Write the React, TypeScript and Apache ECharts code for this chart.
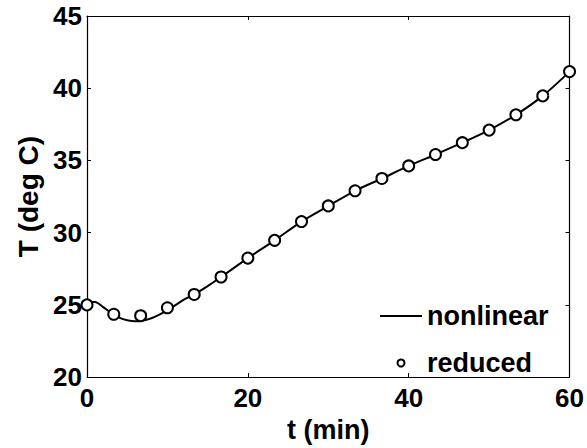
import React, { useEffect, useRef } from "react";
import * as echarts from "echarts";

const nonlinearT = [0, 1, 2, 3, 4, 5, 6, 7, 8, 9, 10, 11, 12, 13.33, 15, 16.67, 20, 23.33, 26.67, 30, 33.33, 36.67, 40, 43.33, 46.67, 50, 53.33, 56.67, 60];
const nonlinearY = [25.2, 25.2, 24.85, 24.45, 24.12, 23.93, 23.86, 23.92, 24.07, 24.32, 24.63, 24.98, 25.35, 25.72, 26.3, 26.93, 28.24, 29.47, 30.77, 31.85, 32.9, 33.75, 34.62, 35.41, 36.23, 37.1, 38.16, 39.47, 41.15];
const reducedT = [0, 3.33, 6.67, 10, 13.33, 16.67, 20, 23.33, 26.67, 30, 33.33, 36.67, 40, 43.33, 46.67, 50, 53.33, 56.67, 60];
const reducedY = [25.0, 24.35, 24.25, 24.8, 25.72, 26.93, 28.24, 29.47, 30.77, 31.85, 32.9, 33.75, 34.62, 35.41, 36.23, 37.1, 38.16, 39.47, 41.15];
const xTicks = { min: 0, max: 60, interval: 20 };
const yTicks = { min: 20, max: 45, interval: 5 };

const FONT = "'Liberation Sans', Arial, sans-serif";

export default function App() {
  const ref = useRef<HTMLDivElement>(null);
  useEffect(() => {
    if (!ref.current) return;
    const chart = echarts.init(ref.current, undefined, { renderer: "svg" });
    const axisLine = { show: true, onZero: false, lineStyle: { color: "#000", width: 1.2 } };
    const tick = { show: true, inside: true, length: 4, lineStyle: { color: "#000", width: 1 } };
    chart.setOption({
      animation: false,
      backgroundColor: "#fff",
      grid: { left: 87, right: 16, top: 16, bottom: 69, containLabel: false },
      legend: {
        orient: "vertical",
        left: 375,
        top: 296,
        itemWidth: 42,
        itemHeight: 7,
        itemGap: 17,
        symbolKeepAspect: true,
        textStyle: { fontFamily: FONT, fontWeight: "bold", fontSize: 27, color: "#000", lineHeight: 30 },
        data: [
          { name: "nonlinear", icon: "path://M0,0 L42,0 L42,2 L0,2 Z", itemStyle: { color: "#000" } },
          { name: "reduced", icon: "emptyCircle" },
        ],
      },
      xAxis: [
        {
          type: "value",
          ...xTicks,
          position: "bottom",
          axisLine,
          axisTick: tick,
          splitLine: { show: false },
          axisLabel: { fontFamily: FONT, fontWeight: "bold", fontSize: 26, color: "#000", margin: 8 },
          name: "t (min)",
          nameLocation: "middle",
          nameGap: 37,
          nameTextStyle: { fontFamily: FONT, fontWeight: "bold", fontSize: 27, color: "#000" },
        },
        {
          type: "value",
          ...xTicks,
          position: "top",
          axisLine,
          axisTick: tick,
          splitLine: { show: false },
          axisLabel: { show: false },
        },
      ],
      yAxis: [
        {
          type: "value",
          ...yTicks,
          position: "left",
          axisLine,
          axisTick: tick,
          splitLine: { show: false },
          axisLabel: { fontFamily: FONT, fontWeight: "bold", fontSize: 26, color: "#000", margin: 5 },
          name: "T (deg C)",
          nameLocation: "middle",
          nameGap: 44,
          nameTextStyle: { fontFamily: FONT, fontWeight: "bold", fontSize: 28, color: "#000" },
        },
        {
          type: "value",
          ...yTicks,
          position: "right",
          axisLine,
          axisTick: tick,
          splitLine: { show: false },
          axisLabel: { show: false },
        },
      ],
      series: [
        {
          name: "nonlinear",
          type: "line",
          data: nonlinearT.map((t, i) => [t, nonlinearY[i]]),
          showSymbol: false,
          symbol: "none",
          smooth: 0.3,
          lineStyle: { color: "#000", width: 2 },
          itemStyle: { color: "#000" },
          clip: false,
          z: 2,
        },
        {
          name: "reduced",
          type: "scatter",
          data: reducedT.map((t, i) => [t, reducedY[i]]),
          symbol: "emptyCircle",
          symbolSize: 11,
          itemStyle: { color: "#000", borderWidth: 2, opacity: 1 },
          clip: false,
          z: 3,
        },
      ],
    });
    return () => chart.dispose();
  }, []);
  return <div ref={ref} style={{ width: 587, height: 448, position: "absolute", left: 0, top: 0 }} />;
}
